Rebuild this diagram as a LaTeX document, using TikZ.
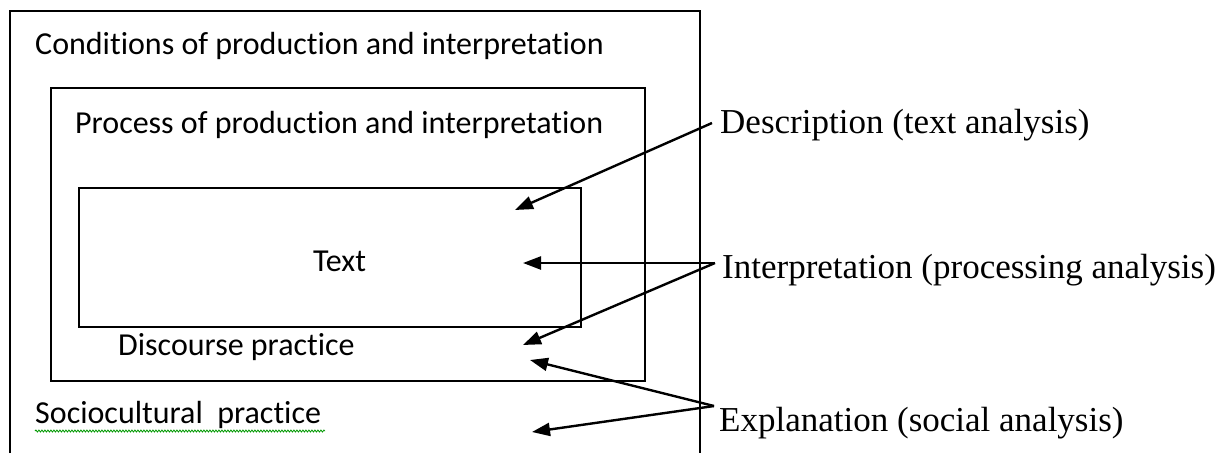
\documentclass[tikz,border=0pt]{standalone}
\usepackage{fontspec}
\setmainfont{Liberation Serif}
\newfontfamily\calibrifont[Ligatures=NoCommon]{Carlito}
\usetikzlibrary{arrows.meta,decorations.pathmorphing}
\begin{document}
\begin{tikzpicture}[x=1pt,y=-1pt,
  box/.style={line width=2.8pt},
  sans/.style={font=\calibrifont\fontsize{32}{38}\selectfont, anchor=base west, inner sep=0pt},
  serif/.style={font=\fontsize{35}{42}\selectfont, anchor=base west, inner sep=0pt},
  arr/.style={line width=2.4pt,-{Triangle[length=18pt,width=13pt]}}]
\useasboundingbox (0,0) rectangle (1227,453);
\fill[white] (0,0) rectangle (1227,453);
% boxes
\draw[box] (10,453) -- (10,11) -- (700,11) -- (700,453);
\draw[box] (51,88) rectangle (645,381);
\draw[box] (79,188) rectangle (581,327);
% box texts
\node[sans] (cond) at (35,54) {Conditions of production and interpretation};
\node[sans] (proc) at (75,133) {Process of production and interpretation};
\node[sans] (text) at (313,271) {Text};
\node[sans] (disc) at (118,355) {Discourse practice};
\node[sans] (socio) at (35,423) {Sociocultural\ \ practice};
\draw[green!60!black, line width=0.8pt, decorate, decoration={snake, amplitude=1pt, segment length=3pt}]
  (socio.base west) ++(0,8) -- ++(290,0);
% right labels
\node[serif] (desc) at (720,133) {Description (text analysis)};
\node[serif] (interp) at (722,278) {Interpretation (processing analysis)};
\node[serif] (expl) at (719,431) {Explanation (social analysis)};
% arrow anchors
\coordinate (dS) at (712,123);
\coordinate (iS) at (715,263);
\coordinate (eS) at (714,406);
\coordinate (dT) at (515,210);
\coordinate (iT1) at (523,263);
\coordinate (iT2) at (523,345);
\coordinate (eT1) at (530,360);
\coordinate (eT2) at (532,432);
\draw[arr] (dS) -- (dT);
\draw[arr] (iS) -- (iT1);
\draw[arr] (iS) -- (iT2);
\draw[arr] (eS) -- (eT1);
\draw[arr] (eS) -- (eT2);
\end{tikzpicture}
\end{document}
